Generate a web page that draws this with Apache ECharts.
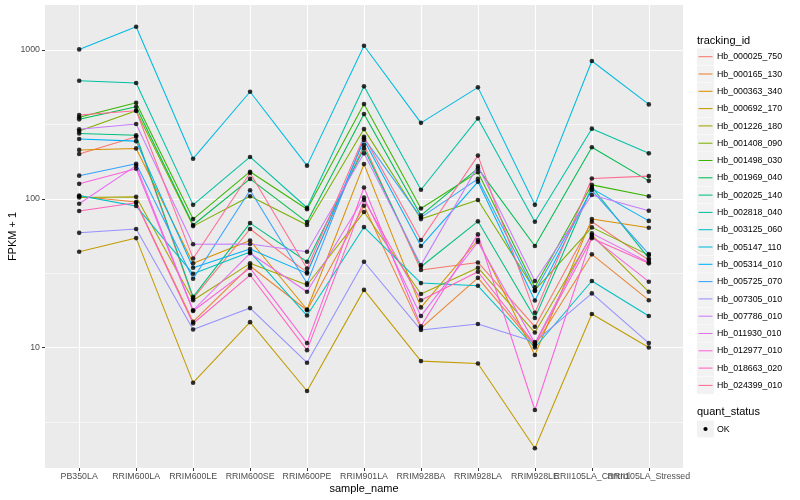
<!DOCTYPE html>
<html><head><meta charset="utf-8">
<script src="https://cdn.jsdelivr.net/npm/echarts@6/dist/echarts.min.js"></script>
<style>html,body{margin:0;padding:0;background:#fff}#c{width:800px;height:500px}</style>
</head><body><div id="c"></div>
<script>
const categories = ['PB350LA','RRIM600LA','RRIM600LE','RRIM600SE','RRIM600PE','RRIM901LA','RRIM928BA','RRIM928LA','RRIM928LE','RRII105LA_Control','RRII105LA_Stressed'];
const trackingIds = ['Hb_000025_750','Hb_000165_130','Hb_000363_340','Hb_000692_170','Hb_001226_180','Hb_001408_090','Hb_001498_030','Hb_001969_040','Hb_002025_140','Hb_002818_040','Hb_003125_060','Hb_005147_110','Hb_005314_010','Hb_005725_070','Hb_007305_010','Hb_007786_010','Hb_011930_010','Hb_012977_010','Hb_018663_020','Hb_024399_010'];
const colors = ['#F8766D','#EA8331','#D89000','#C09B00','#A3A500','#7CAE00','#39B600','#00BB4E','#00BF7D','#00C1A3','#00BFC4','#00BAE0','#00B0F6','#35A2FF','#9590FF','#C77CFF','#E76BF3','#FA62DB','#FF62BC','#FF6C91'];
const yTicks = [10, 100, 1000];
const yMinorTicks = [3.1623, 31.623, 316.23];

const v000025_750 = [200, 261, 21.4, 62.6, 32, 230, 33.2, 37.3, 13.8, 70, 38.7];
const v000165_130 = [104, 95, 14.9, 35.3, 17.8, 89.7, 13.5, 29.4, 10.3, 42.3, 20.8];
const v000363_340 = [213, 218, 36.8, 52.4, 18, 171, 18.6, 52.8, 8.9, 73, 63.8];
const v000692_170 = [44, 54.4, 5.8, 14.8, 5.1, 24.4, 8.1, 7.8, 2.1, 16.8, 10];
const v001226_180 = [102, 103, 20.8, 36.8, 26.3, 81.4, 22.9, 34.4, 12.6, 57, 23.7];
const v001408_090 = [285, 391, 65.5, 104, 66.6, 294, 73, 98, 24.3, 64.2, 41.8];
const v001498_030 = [353, 442, 73, 152, 85, 433, 86, 151, 25.4, 124, 104];
const v001969_040 = [342, 416, 66.6, 136, 69.7, 371, 77.3, 160, 48.1, 222, 132];
const v002025_140 = [275, 267, 21.9, 68.6, 37.7, 218, 34.9, 70.5, 15.8, 120, 39.7];
const v002818_040 = [622, 600, 91, 191, 87, 570, 115, 347, 70, 296, 202];
const v003125_060 = [105, 89.3, 31.3, 43.8, 16.4, 64.5, 27.1, 26, 10, 28, 16.3];
const v005147_110 = [1010, 1435, 186, 524, 167, 1069, 324, 561, 91, 844, 431];
const v005314_010 = [252, 244, 34.4, 45.9, 31.5, 248, 48.1, 130, 20.7, 117, 71];
const v005725_070 = [143, 172, 29, 114, 27, 255, 75, 136, 24, 114, 42.5];
const v007305_010 = [59, 62.6, 13.2, 18.4, 7.9, 37.7, 13.1, 14.4, 10.9, 23.1, 10.7];
const v007786_010 = [293, 318, 49.4, 49.6, 44, 202, 35.8, 166, 28, 106, 83];
const v011930_010 = [92.6, 167, 17.8, 43, 23.7, 102, 16.3, 51.2, 10.7, 58.5, 37.3];
const v012977_010 = [126, 159, 17.6, 34.2, 10.7, 119, 13.9, 57.6, 3.8, 55.5, 27.7];
const v018663_020 = [82.7, 94, 14.5, 30.7, 9.6, 98, 20.8, 32.3, 10.5, 54.2, 36.8];
const v024399_010 = [366, 391, 39.7, 149, 34, 261, 52.8, 195, 17.1, 137, 142];

const valuesList = [v000025_750, v000165_130, v000363_340, v000692_170, v001226_180, v001408_090, v001498_030, v001969_040, v002025_140, v002818_040, v003125_060, v005147_110, v005314_010, v005725_070, v007305_010, v007786_010, v011930_010, v012977_010, v018663_020, v024399_010];

const FONT = 'Liberation Sans, Arial, Helvetica, sans-serif';
const idx = categories.map((c, i) => i);
const evenIdx = idx.filter(i => i % 2 === 0);
const oddIdx = idx.filter(i => i % 2 === 1);

const series = trackingIds.map((id, i) => ({
  name: id, type: 'line', xAxisIndex: 0, yAxisIndex: 0,
  data: valuesList[i].map((v, j) => [j, v]),
  showSymbol: false, symbol: 'none', silent: true, z: 2,
  lineStyle: { color: colors[i], width: 1.05 }, itemStyle: { color: colors[i] }
}));
const pts = [];
valuesList.forEach(arr => arr.forEach((v, j) => pts.push([j, v])));
series.push({ type: 'scatter', data: pts, symbol: 'circle', symbolSize: 4.6, itemStyle: { color: '#000' }, z: 5, silent: true });

const LX = 697, LY0 = 48.3, LSTEP = 17.3;
const graphics = [
  { type: 'text', x: LX, y: 40.7, style: { text: 'tracking_id', font: '11px ' + FONT, fill: '#000', verticalAlign: 'middle' } }
];
trackingIds.forEach((id, i) => {
  const y = LY0 + i * LSTEP;
  graphics.push({ type: 'rect', shape: { x: LX, y: y, width: 17, height: 16.8 }, style: { fill: '#F2F2F2' }, silent: true });
  graphics.push({ type: 'line', shape: { x1: LX + 1.5, y1: y + 8.4, x2: LX + 15.5, y2: y + 8.4 }, style: { stroke: colors[i], lineWidth: 1.05 }, silent: true });
  graphics.push({ type: 'text', x: LX + 20, y: y + 8.6, style: { text: id, font: '8.8px ' + FONT, fill: '#000', verticalAlign: 'middle' }, silent: true });
});
graphics.push({ type: 'text', x: LX, y: 412, style: { text: 'quant_status', font: '11px ' + FONT, fill: '#000', verticalAlign: 'middle' } });
graphics.push({ type: 'rect', shape: { x: LX, y: 420.6, width: 17, height: 16.8 }, style: { fill: '#F2F2F2' }, silent: true });
graphics.push({ type: 'circle', shape: { cx: LX + 8.5, cy: 429, r: 2.1 }, style: { fill: '#000' }, silent: true });
graphics.push({ type: 'text', x: LX + 20, y: 429.2, style: { text: 'OK', font: '8.8px ' + FONT, fill: '#000', verticalAlign: 'middle' }, silent: true });

function xAxisDef(vals, withName) {
  return {
    type: 'value', min: -0.6, max: 10.6, position: 'bottom', offset: 0,
    name: withName ? 'sample_name' : '', nameLocation: 'middle', nameGap: 15, nameMoveOverlap: false,
    nameTextStyle: { fontSize: 11, color: '#000', fontFamily: FONT },
    axisLine: { show: false, onZero: false },
    axisTick: { show: true, customValues: vals, length: 3, lineStyle: { color: '#333', width: 1 } },
    axisLabel: { customValues: vals, formatter: v => categories[Math.round(v)], fontSize: 8.8, color: '#4D4D4D', margin: 4, fontFamily: FONT, hideOverlap: false, showMinLabel: true, showMaxLabel: true },
    splitLine: { show: true, lineStyle: { color: '#fff', width: 1.1 } }
  };
}

const chart = echarts.init(document.getElementById('c'), null, { renderer: 'canvas' });
chart.setOption({
  animation: false,
  backgroundColor: '#fff',
  textStyle: { fontFamily: FONT },
  grid: { left: 45, right: 117, top: 5, bottom: 32, show: true, backgroundColor: '#EBEBEB', borderWidth: 0, containLabel: false, outerBoundsMode: 'none' },
  xAxis: [xAxisDef(evenIdx, true), xAxisDef(oddIdx, false)],
  yAxis: [{
    type: 'log', logBase: 10, min: 1.548, max: 2008, position: 'left', offset: 0,
    name: 'FPKM + 1', nameLocation: 'middle', nameGap: 27, nameRotate: 90, nameMoveOverlap: false,
    nameTextStyle: { fontSize: 11, color: '#000', fontFamily: FONT },
    axisLine: { show: false, onZero: false },
    axisTick: { show: true, customValues: yTicks, length: 3, lineStyle: { color: '#333', width: 1 } },
    axisLabel: { customValues: yTicks, formatter: v => String(Math.round(v)), fontSize: 8.8, color: '#4D4D4D', margin: 5, fontFamily: FONT, showMinLabel: true, showMaxLabel: true },
    splitLine: { show: true, lineStyle: { color: '#fff', width: 1.1 } }
  }, {
    type: 'log', logBase: 10, min: 1.548, max: 2008, position: 'left', offset: 0,
    axisLine: { show: false, onZero: false },
    axisTick: { show: false, customValues: yMinorTicks },
    axisLabel: { show: false, customValues: yMinorTicks },
    splitLine: { show: true, lineStyle: { color: '#fff', width: 0.55 } }
  }],
  graphic: graphics,
  series: series
});
</script></body></html>
